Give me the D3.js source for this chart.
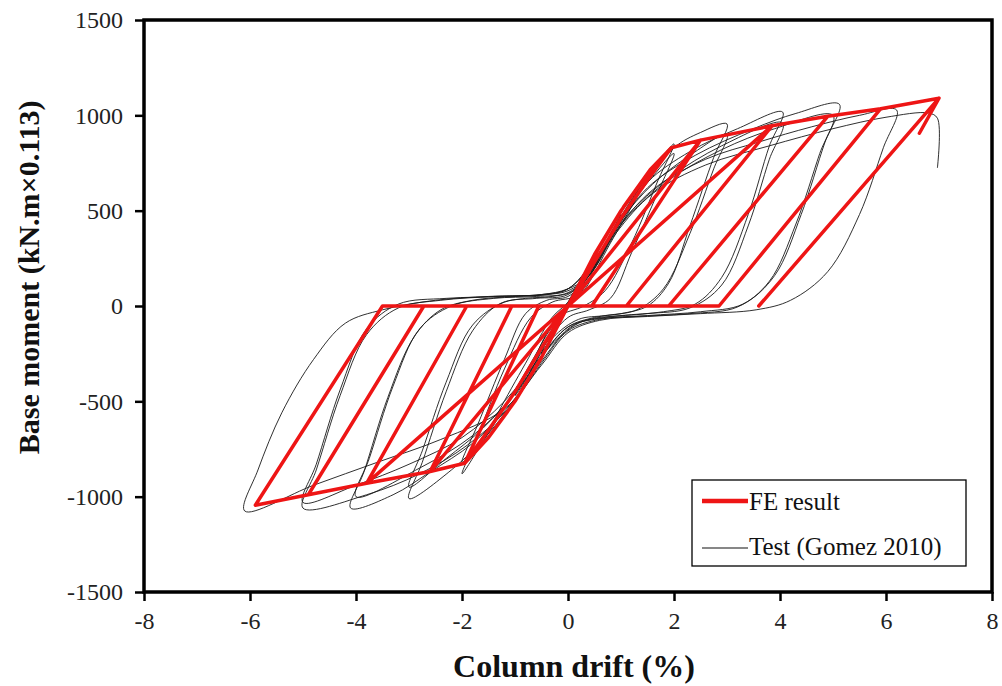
<!DOCTYPE html>
<html>
<head>
<meta charset="utf-8">
<script src="https://cdn.jsdelivr.net/npm/d3@7"></script>
<style>
  html, body { margin: 0; padding: 0; background: #fff; }
  svg { display: block; }
  text { font-family: "Liberation Serif", "Times New Roman", serif; }
</style>
</head>
<body>
<svg id="chart" width="1002" height="686"></svg>
<script>
// ---------------- data ----------------
const xTicks = [-8, -6, -4, -2, 0, 2, 4, 6, 8];
const yTicks = [-1500, -1000, -500, 0, 500, 1000, 1500];
const xLabel = "Column drift (%)";
const yLabel = "Base moment (kN.m\u00D70.113)";
const legendLabels = ["FE result", "Test (Gomez 2010)"];

// FE result: [drift %, moment]
const feResult = [
  [0,0],[0.5,270],[1.0,500],[1.5,690],[1.95,830],
  [1.5,660],[1.0,460],[0.5,230],[0,0],[-0.5,-270],[-1.0,-500],[-1.5,-690],[-1.95,-825],
  [-1.5,-650],[-1.0,-450],[-0.5,-220],[0,0],[0.55,290],[1.05,520],[1.55,715],[1.95,830],
  [2.5,870],[0,0],[-2.6,-868],[-1.06,0],[0.45,0],[2.5,870],[3.85,945],
  [1.1,0],[-0.55,0],[-1.95,-825],[-2.6,-868],[-3.8,-930],
  [0,0],[3.85,945],[4.9,995],
  [1.9,0],[-1.91,0],[-3.8,-930],[-4.9,-990],[-2.72,0],[1.9,0],[4.9,995],[5.9,1035],
  [2.85,0],[-2.72,0],[-4.9,-990],[-5.9,-1045],[-3.5,0],[2.85,0],[5.9,1035],[7.0,1090],
  [3.6,0],[7.0,1090],[6.63,906]
];

// Test (Gomez 2010): [drift %, moment]
const testResult = [
  [0,0],[0.5,260],[0.3,170],[0,20],[-0.3,-120],[-0.5,-250],[-0.3,-160],[0,-10],
  [0.4,200],[0.8,400],[1.0,480],[0.8,380],[0.4,160],[0,10],[-0.4,-180],[-0.8,-390],[-1.0,-470],[-0.8,-370],[-0.4,-150],[0,0],
  [0.5,220],[1.0,460],[1.5,680],[1.3,570],[0.8,330],[0.3,80],[0,-10],[-0.5,-220],[-1.0,-440],[-1.5,-660],[-1.3,-550],[-0.8,-300],[-0.3,-60],[0,20],
  [0.5,220],[1.0,470],[1.5,680],[2.0,850],[1.7,660],[1.2,330],[0.7,80],[0.3,0],[-0.2,-60],[-0.6,-250],[-1.1,-490],[-1.6,-710],[-2.0,-880],[-1.7,-680],[-1.2,-330],[-0.7,-60],[-0.3,20],[0.2,60],
  [0.6,260],[1.1,500],[1.6,680],[2.0,800],[1.7,600],[1.2,280],[0.8,40],[0.4,-20],[0,-60],[-0.5,-230],[-1.0,-450],[-1.5,-650],[-2.0,-820],[-1.7,-620],[-1.2,-280],[-0.8,-40],[-0.4,30],[0,50],
  [0.4,160],[0.9,400],[1.4,620],[2.0,830],[2.5,910],[3.0,955],[2.75,780],[2.3,420],[1.9,120],[1.5,0],[1.0,-40],[0.5,-60],[0,-110],[-0.5,-270],[-1.0,-490],[-1.6,-700],[-2.2,-860],[-3.0,-1010],[-2.75,-820],[-2.3,-450],[-1.8,-130],[-1.3,10],[-0.8,40],[-0.3,50],[0.1,80],
  [0.5,230],[1.0,450],[1.6,640],[2.3,790],[3.0,900],[2.75,720],[2.3,380],[1.8,90],[1.3,-20],[0.7,-50],[0.2,-70],[-0.3,-170],[-0.9,-420],[-1.6,-640],[-2.3,-800],[-3.0,-950],[-2.75,-760],[-2.3,-400],[-1.8,-100],[-1.2,20],[-0.6,40],[0,60],
  [0.4,180],[0.9,420],[1.5,650],[2.3,810],[3.2,930],[4.05,1017],[3.8,840],[3.4,480],[2.9,150],[2.4,10],[1.8,-30],[1.0,-50],[0.4,-70],[0,-120],[-0.5,-290],[-1.1,-520],[-1.8,-720],[-2.6,-870],[-3.3,-990],[-4.1,-1060],[-3.85,-870],[-3.4,-480],[-2.9,-160],[-2.4,-20],[-1.8,30],[-1.0,50],[-0.4,60],[0,90],
  [0.5,240],[1.1,470],[1.9,670],[2.9,840],[4.05,960],[3.8,770],[3.4,420],[2.9,110],[2.3,-10],[1.5,-40],[0.7,-60],[0.2,-90],[-0.4,-230],[-1.0,-460],[-1.8,-680],[-2.8,-850],[-4.0,-1000],[-3.75,-800],[-3.3,-420],[-2.8,-120],[-2.2,0],[-1.4,40],[-0.6,50],[0,70],
  [0.4,170],[0.9,400],[1.5,620],[2.4,790],[3.5,930],[4.3,1010],[5.12,1058],[4.85,860],[4.4,480],[3.9,160],[3.3,10],[2.5,-30],[1.5,-50],[0.6,-70],[0,-130],[-0.5,-300],[-1.1,-530],[-1.9,-730],[-2.8,-880],[-3.8,-990],[-5.0,-1060],[-4.75,-860],[-4.3,-470],[-3.8,-150],[-3.2,-10],[-2.4,30],[-1.4,50],[-0.5,60],[0,90],
  [0.5,230],[1.1,460],[1.9,660],[2.9,820],[3.9,930],[5.0,1000],[4.75,800],[4.3,430],[3.8,130],[3.2,-5],[2.3,-40],[1.3,-55],[0.5,-70],[0,-110],[-0.5,-260],[-1.2,-500],[-2.0,-690],[-3.0,-830],[-4.0,-940],[-5.0,-1030],[-4.75,-830],[-4.3,-440],[-3.8,-120],[-3.2,10],[-2.3,40],[-1.2,50],[-0.4,60],[0,80],
  [0.4,160],[0.9,390],[1.6,610],[2.6,770],[3.6,860],[4.6,940],[5.5,1000],[6.2,1028],[5.95,830],[5.5,480],[4.9,180],[4.2,30],[3.55,-20],[2.5,-40],[1.5,-55],[0.6,-75],[0,-140],[-0.5,-310],[-1.2,-540],[-2.4,-700],[-3.6,-820],[-4.8,-940],[-6.1,-1075],
  [-5.85,-860],[-5.4,-560],[-4.8,-280],[-4.2,-90],[-3.5,-20],[-2.5,30],[-1.5,50],[-0.5,60],[0,90],
  [0.4,160],[0.9,380],[1.6,590],[2.6,740],[3.8,840],[5.0,930],[6.0,990],[6.8,1012],[6.97,985],[6.97,724]
];

// ---------------- chart ----------------
const svg = d3.select("#chart");
const x = d3.scaleLinear().domain([-8, 8]).range([144, 992]);
const y = d3.scaleLinear().domain([-1500, 1500]).range([592, 20]);

const plot = svg.append("g");

// test curve (thin black)
const testLine = d3.line()
  .x(d => x(d[0])).y(d => y(d[1]))
  .curve(d3.curveCatmullRom.alpha(0.5));
plot.append("path")
  .datum(testResult)
  .attr("d", testLine)
  .attr("fill", "none")
  .attr("stroke", "#1a1a1a")
  .attr("stroke-width", 1)
  .attr("stroke-opacity", 0.9);

// FE curve (thick red)
const feLine = d3.line()
  .x(d => x(d[0])).y(d => y(d[1]));
plot.append("path")
  .datum(feResult)
  .attr("d", feLine)
  .attr("fill", "none")
  .attr("stroke", "#ee1515")
  .attr("stroke-width", 3.5)
  .attr("stroke-linejoin", "round")
  .attr("stroke-linecap", "round");

// axes
const fmt = d => d3.format("d")(d).replace("\u2212", "-");
const xAxis = svg.append("g")
  .attr("transform", `translate(0,${y(-1500)})`)
  .call(d3.axisBottom(x).tickValues(xTicks).tickSize(9).tickPadding(11).tickFormat(fmt));
const yAxis = svg.append("g")
  .attr("transform", `translate(${x(-8)},0)`)
  .call(d3.axisLeft(y).tickValues(yTicks).tickSize(9).tickPadding(12).tickFormat(fmt));

[xAxis, yAxis].forEach(g => {
  g.select(".domain").remove();
  g.selectAll(".tick line").attr("stroke", "#000").attr("stroke-width", 2.5);
  g.selectAll(".tick text")
    .attr("fill", "#222")
    .style("font-family", "'Liberation Serif', serif")
    .style("font-size", "24px");
});

// frame
svg.append("rect")
  .attr("x", x(-8)).attr("y", y(1500))
  .attr("width", x(8) - x(-8)).attr("height", y(-1500) - y(1500))
  .attr("fill", "none").attr("stroke", "#000").attr("stroke-width", 3.5);

// axis titles
svg.append("text")
  .attr("x", x(0) + 6).attr("y", 677)
  .attr("text-anchor", "middle")
  .style("font-size", "32px").style("font-weight", "bold")
  .attr("fill", "#111")
  .text(xLabel);
svg.append("text")
  .attr("transform", `translate(39,${y(150)}) rotate(-90)`)
  .attr("text-anchor", "middle")
  .style("font-size", "30px").style("font-weight", "bold")
  .attr("fill", "#111")
  .text(yLabel);

// legend
const lg = svg.append("g");
lg.append("rect")
  .attr("x", 692).attr("y", 480).attr("width", 274).attr("height", 86)
  .attr("fill", "#fff").attr("stroke", "#000").attr("stroke-width", 1.3);
const legendItems = [
  { label: legendLabels[0], color: "#ee1515", w: 4.5, ly: 501, ty: 510 },
  { label: legendLabels[1], color: "#111", w: 1.2, ly: 548, ty: 555 }
];
legendItems.forEach(it => {
  lg.append("line")
    .attr("x1", 702).attr("x2", 748).attr("y1", it.ly).attr("y2", it.ly)
    .attr("stroke", it.color).attr("stroke-width", it.w);
  lg.append("text")
    .attr("x", 749).attr("y", it.ty)
    .style("font-size", "25px").attr("fill", "#111")
    .text(it.label);
});
</script>
</body>
</html>
